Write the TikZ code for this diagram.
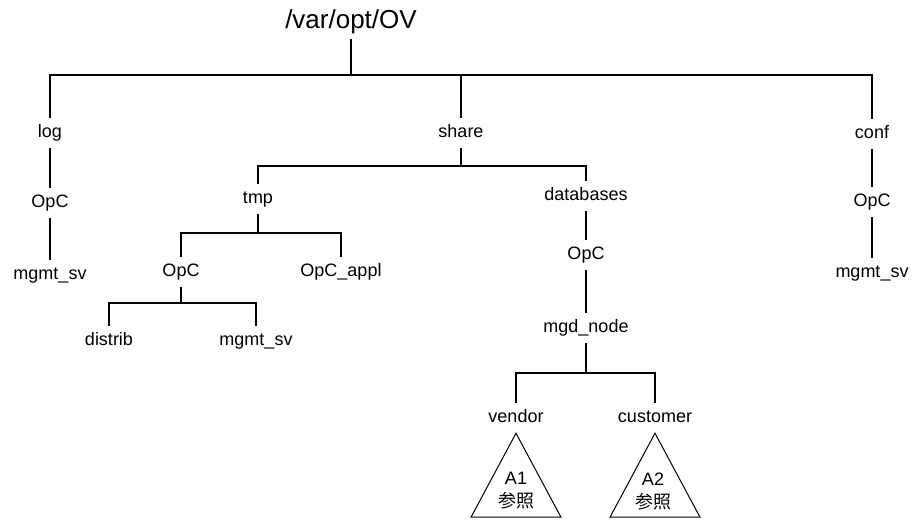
\documentclass[tikz,border=0pt]{standalone}
\usepackage{fontspec}
\setmainfont{Liberation Sans}
\newfontfamily\cjk{Noto Sans CJK JP}
\usepackage{tikz}
\usetikzlibrary{calc}
\tikzset{
  lbl/.style={font=\fontsize{18}{20}\selectfont,text height=13pt,text depth=4pt,inner xsep=2pt,inner ysep=6.5pt},
  root/.style={font=\fontsize{26}{30}\selectfont,text height=19pt,text depth=5.5pt,inner sep=5pt},
  edge/.style={line width=1.8pt},
  tri/.style={line width=1pt,line join=miter},
  reftext/.style={font=\fontsize{18}{23}\selectfont,align=center,inner sep=0pt},
}

\begin{document}
\begin{tikzpicture}[x=1pt,y=-1pt]
\useasboundingbox (0,0) rectangle (914,520);
\node[root] (ov) at (351,21.5) {/var/opt/OV};
\coordinate (ovbar) at (351,75);
% first level
\node[lbl] (log) at (50,133) {log};
\node[lbl] (share) at (461,133) {share};
\node[lbl] (conf) at (872,134) {conf};
\draw[edge] (ov.south) -- (ovbar);
\draw[edge] (log.north) -- (log.north |- ovbar) -- (conf.north |- ovbar) -- (conf.north);
\draw[edge] (share.north) -- (share.north |- ovbar);
% log and conf
\node[lbl] (lopc) at (50,203) {OpC};
\node[lbl] (lmgmt) at (50,275) {mgmt\_sv};
\node[lbl] (copc) at (872,202) {OpC};
\node[lbl] (cmgmt) at (872,273) {mgmt\_sv};
\draw[edge] (log) -- (lopc);
\draw[edge] (lopc) -- (lmgmt);
\draw[edge] (conf) -- (copc);
\draw[edge] (copc) -- (cmgmt);
% share
\coordinate (sharebar) at (461,166);
\node[lbl] (tmp) at (258,199) {tmp};
\node[lbl] (db) at (586,196) {databases};
\draw[edge] (share.south) -- (sharebar);
\draw[edge] (tmp.north) -- (tmp.north |- sharebar) -- (db.north |- sharebar) -- (db.north);
% tmp
\coordinate (tmpbar) at (258,233);
\node[lbl] (topc) at (181,272) {OpC};
\node[lbl] (appl) at (341,272) {OpC\_appl};
\draw[edge] (tmp.south) -- (tmpbar);
\draw[edge] (topc.north) -- (topc.north |- tmpbar) -- (appl.north |- tmpbar) -- (appl.north);
\coordinate (topcbar) at (181,303);
\node[lbl] (distrib) at (109,341) {distrib};
\node[lbl] (tmgmt) at (256,341) {mgmt\_sv};
\draw[edge] (topc.south) -- (topcbar);
\draw[edge] (distrib.north) -- (distrib.north |- topcbar) -- (tmgmt.north |- topcbar) -- (tmgmt.north);
% databases
\node[lbl] (dopc) at (586,255) {OpC};
\node[lbl] (mgd) at (586,328) {mgd\_node};
\draw[edge] (db) -- (dopc);
\draw[edge] (dopc) -- (mgd);
\coordinate (mgdbar) at (586,373);
\node[lbl] (vendor) at (516,418) {vendor};
\node[lbl] (customer) at (655,418) {customer};
\draw[edge] (mgd.south) -- (mgdbar);
\draw[edge] (vendor.north) -- (vendor.north |- mgdbar) -- (customer.north |- mgdbar) -- (customer.north);
% references
\draw[tri] (vendor.south) -- ++(-45,84) -- ++(90,0) -- cycle;
\draw[tri] (customer.south) -- ++(-45,84) -- ++(90,0) -- cycle;
\node[reftext] (ref1) at (516,491) {A1\\{\cjk 参照}};
\node[reftext] (ref2) at (653,491) {A2\\{\cjk 参照}};
\end{tikzpicture}
\end{document}
